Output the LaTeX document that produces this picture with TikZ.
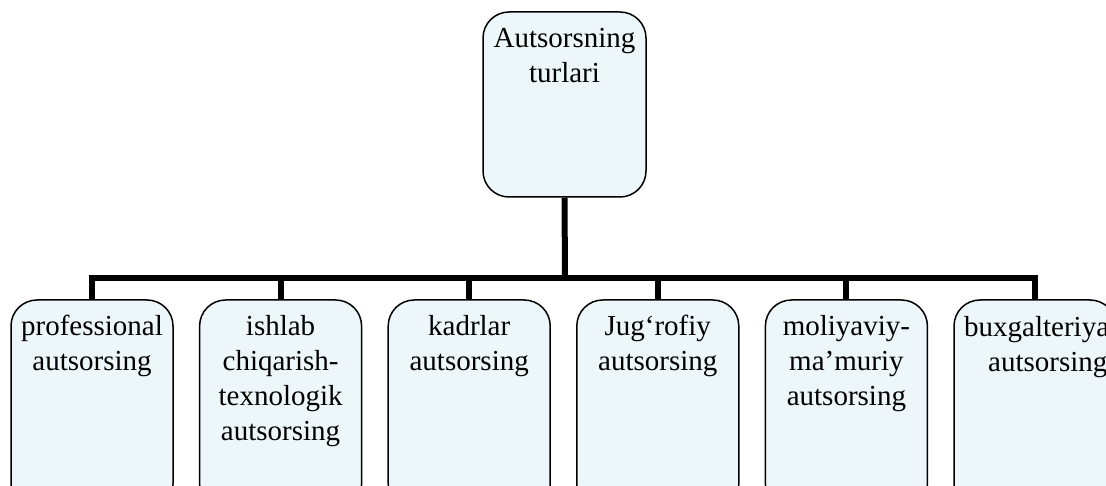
\documentclass[tikz,border=0pt]{standalone}
\usepackage{fontspec}
\setmainfont{Liberation Serif}
\definecolor{boxfill}{RGB}{237,246,248}
\begin{document}
\begin{tikzpicture}[x=1pt,y=-1pt,
  box/.style={draw=black,line width=1.5pt,fill=boxfill,rounded corners=26pt,inner sep=0pt},
  lbl/.style={anchor=north,inner sep=0pt,align=center,font=\fontsize{29}{35}\selectfont},
  conn/.style={draw=black,line width=6pt,line join=miter}]
\useasboundingbox (0,0) rectangle (1106,486);
\clip (0,0) rectangle (1106,486);
\fill[white] (0,0) rectangle (1106,486);
% top box
\node[box,minimum width=163pt,minimum height=185pt] (top) at (564.5,104.5) {};
\node[lbl] (ttop) at ([yshift=-11.5pt]top.north) {\strut Autsorsning\\\strut turlari};
\coordinate (hub) at (565,278);
% bottom boxes
\foreach \i/\cx in {1/92,2/280.6,3/469.2,4/657.8,5/846.4,6/1035}{
  \node[box,minimum width=162pt,minimum height=210pt] (b\i) at (\cx,405) {};
}
\node[lbl] (t1) at ([yshift=-11.5pt]b1.north) {\strut professional\\\strut autsorsing};
\node[lbl] (t2) at ([yshift=-11.5pt]b2.north) {\strut ishlab\\\strut chiqarish-\\\strut texnologik\\\strut autsorsing};
\node[lbl] (t3) at ([yshift=-11.5pt]b3.north) {\strut kadrlar\\\strut autsorsing};
\node[lbl] (t4) at ([yshift=-11.5pt]b4.north) {\strut Jug‘rofiy\\\strut autsorsing};
\node[lbl] (t5) at ([yshift=-11.5pt]b5.north) {\strut moliyaviy-\\\strut ma’muriy\\\strut autsorsing};
\node[lbl,anchor=north west,align=left] (t6) at (964,311.5) {\strut buxgalteriya\\\hspace*{24pt}\strut autsorsing};
% connectors
\draw[conn] (top.south) -- (hub);
\draw[conn] (b1.north) -- (b1.north |- hub) -- (b6.north |- hub) -- (b6.north);
\foreach \i in {2,3,4,5}{
  \draw[conn] (b\i.north) -- (b\i.north |- hub);
}
\end{tikzpicture}
\end{document}
